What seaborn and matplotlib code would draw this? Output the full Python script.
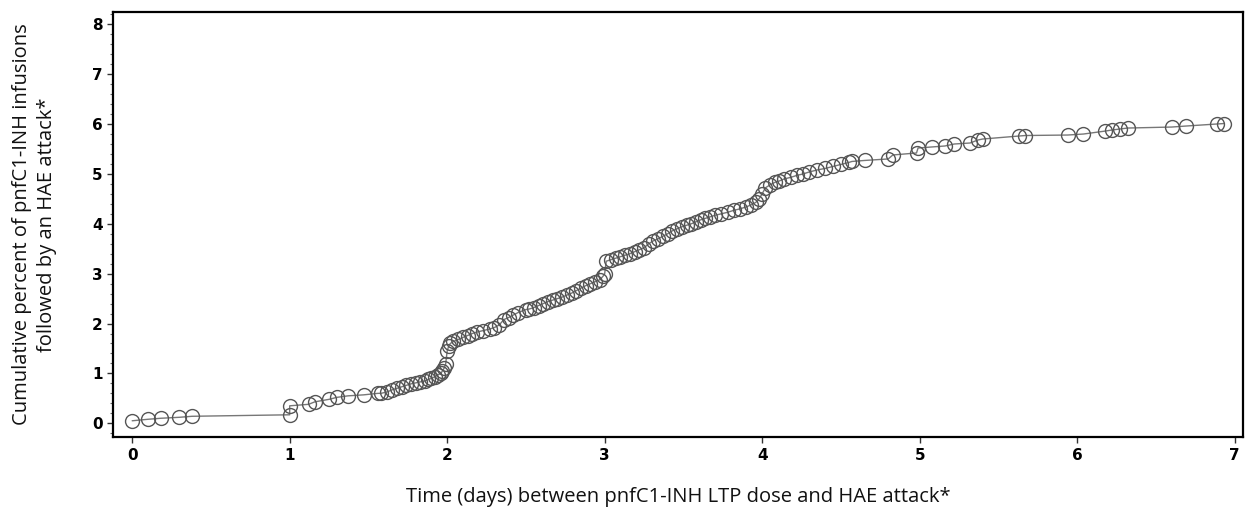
"""Cumulative percent of pnfC1-INH infusions followed by an HAE attack."""

import matplotlib
matplotlib.use("Agg")
import matplotlib.pyplot as plt
import pandas as pd
import seaborn as sns
from matplotlib.ticker import AutoMinorLocator

days = [
    0.0, 0.1, 0.18, 0.3, 0.38,
    1.0, 1.0, 1.12, 1.16, 1.25, 1.3, 1.37, 1.47, 1.56,
    1.58, 1.62, 1.65, 1.68, 1.71, 1.74, 1.77, 1.8, 1.83, 1.86, 1.88, 1.9,
    1.92, 1.94, 1.96, 1.97, 1.98, 1.99, 2.0, 2.01, 2.02, 2.04, 2.07, 2.1,
    2.13, 2.16, 2.19, 2.23, 2.27, 2.3, 2.33, 2.36, 2.39, 2.42, 2.45, 2.5,
    2.52, 2.55, 2.58, 2.61, 2.64, 2.67, 2.7, 2.73, 2.76, 2.79, 2.82, 2.85,
    2.88, 2.91, 2.94, 2.97, 2.99, 3.0, 3.01, 3.04, 3.07, 3.1, 3.13, 3.16,
    3.19, 3.22, 3.25, 3.28, 3.31, 3.34, 3.37, 3.4, 3.43, 3.46, 3.49, 3.52,
    3.55, 3.58, 3.61, 3.64, 3.67, 3.7, 3.74, 3.78, 3.82, 3.86, 3.9, 3.93,
    3.96, 3.98, 4.0, 4.02, 4.05, 4.08, 4.11, 4.14, 4.18, 4.22, 4.26, 4.3,
    4.35, 4.4, 4.45, 4.5, 4.55, 4.57,
    4.65, 4.8, 4.83, 4.98, 4.99, 5.08, 5.16, 5.22, 5.32, 5.37, 5.4, 5.63,
    5.67, 5.94, 6.04, 6.18, 6.22, 6.27, 6.32, 6.6, 6.69, 6.89, 6.93,
]
cum_pct = [
    0.05, 0.08, 0.1, 0.12, 0.14,
    0.17, 0.35, 0.38, 0.43, 0.48, 0.52, 0.55, 0.57, 0.6,
    0.6, 0.63, 0.67, 0.7, 0.73, 0.76, 0.79, 0.81, 0.83, 0.85, 0.88, 0.9,
    0.93, 0.97, 1.0, 1.05, 1.1, 1.18, 1.45, 1.55, 1.6, 1.64, 1.68, 1.72,
    1.76, 1.8, 1.83, 1.86, 1.89, 1.92, 1.97, 2.08, 2.12, 2.17, 2.22, 2.28,
    2.29, 2.32, 2.36, 2.4, 2.44, 2.47, 2.5, 2.53, 2.57, 2.61, 2.66, 2.71,
    2.76, 2.8, 2.84, 2.88, 2.95, 3.0, 3.25, 3.28, 3.31, 3.34, 3.37, 3.4,
    3.44, 3.48, 3.52, 3.6, 3.66, 3.7, 3.75, 3.8, 3.86, 3.9, 3.94, 3.97,
    4.0, 4.04, 4.08, 4.11, 4.14, 4.17, 4.2, 4.23, 4.27, 4.3, 4.34, 4.38,
    4.43, 4.5, 4.6, 4.72, 4.78, 4.83, 4.86, 4.9, 4.93, 4.97, 5.0, 5.04,
    5.08, 5.11, 5.15, 5.19, 5.23, 5.25,
    5.27, 5.3, 5.38, 5.42, 5.52, 5.54, 5.56, 5.6, 5.62, 5.68, 5.7, 5.76,
    5.77, 5.78, 5.8, 5.86, 5.88, 5.9, 5.92, 5.94, 5.96, 6.0, 6.01,
]

x_ticks = [0, 1, 2, 3, 4, 5, 6, 7]
y_ticks = [0, 1, 2, 3, 4, 5, 6, 7, 8]

df = pd.DataFrame({"days": days, "pct": cum_pct})

sns.set_style("ticks")
plt.rcParams["font.family"] = ["DejaVu Sans"]

fig = plt.figure(figsize=(12.45, 5.15), dpi=100)
ax = fig.add_axes([0.091, 0.151, 0.907, 0.826])

sns.lineplot(
    data=df, x="days", y="pct", ax=ax, estimator=None, sort=False,
    color="#777777", linewidth=1.0, marker="o", markersize=10,
    markerfacecolor="none", markeredgecolor="#555555", markeredgewidth=1.0,
)

ax.set_xlim(-0.12, 7.05)
ax.set_ylim(-0.28, 8.25)
ax.set_xticks(x_ticks)
ax.set_yticks(y_ticks)
ax.yaxis.set_minor_locator(AutoMinorLocator(5))
ax.tick_params(axis="both", which="major", labelsize=11, length=4, width=1,
               color="#333333", labelcolor="black")
ax.tick_params(axis="y", which="minor", length=2, width=0.8, color="#666666")
ax.tick_params(axis="x", pad=4)
for lab in ax.get_xticklabels() + ax.get_yticklabels():
    lab.set_fontweight("bold")

for spine in ax.spines.values():
    spine.set_visible(True)
    spine.set_linewidth(1.6)
    spine.set_color("black")

ax.set_xlabel("Time (days) between pnfC1-INH LTP dose and HAE attack*",
              fontsize=14.5, family="Open Sans", color="#111111", labelpad=17)
ax.set_ylabel("Cumulative percent of pnfC1-INH infusions\nfollowed by an HAE attack*",
              fontsize=14.5, family="Open Sans", color="#111111", labelpad=25,
              linespacing=1.35)

fig.savefig("out.png", dpi=100)
plt.close(fig)
